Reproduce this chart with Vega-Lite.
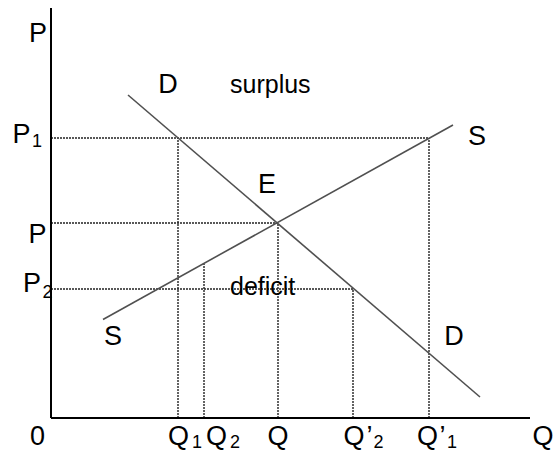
{
  "$schema": "https://vega.github.io/schema/vega-lite/v6.json",
  "width": 558,
  "height": 454,
  "autosize": "none",
  "padding": 0,
  "background": "white",
  "config": {"view": {"stroke": null}},
  "encoding": {
    "x": {"field": "x", "type": "quantitative", "scale": {"domain": [-51, 507], "nice": false, "zero": false}, "axis": null},
    "y": {"field": "y", "type": "quantitative", "scale": {"domain": [-36, 418], "nice": false, "zero": false}, "axis": null}
  },
  "layer": [
    {
      "data": {"values": [
        {"name": "P1", "x": 0, "y": 280, "x2": 378, "y2": 280},
        {"name": "P", "x": 0, "y": 195, "x2": 227, "y2": 195},
        {"name": "P2", "x": 0, "y": 129, "x2": 302, "y2": 129},
        {"name": "Q1", "x": 127, "y": 0, "x2": 127, "y2": 280},
        {"name": "Q2", "x": 153, "y": 0, "x2": 153, "y2": 154},
        {"name": "Q", "x": 227, "y": 0, "x2": 227, "y2": 195},
        {"name": "Q'2", "x": 302, "y": 0, "x2": 302, "y2": 129},
        {"name": "Q'1", "x": 378, "y": 0, "x2": 378, "y2": 280}
      ]},
      "mark": {"type": "rule", "color": "#222222", "strokeWidth": 1.4, "strokeDash": [2, 1]},
      "encoding": {"x2": {"field": "x2"}, "y2": {"field": "y2"}}
    },
    {
      "data": {"values": [
        {"name": "D", "x": 77, "y": 323, "x2": 429, "y2": 21},
        {"name": "S", "x": 52, "y": 98.5, "x2": 402, "y2": 293}
      ]},
      "mark": {"type": "rule", "color": "#505050", "strokeWidth": 1.6},
      "encoding": {"x2": {"field": "x2"}, "y2": {"field": "y2"}}
    },
    {
      "data": {"values": [
        {"name": "price axis", "x": 0, "y": 0, "x2": 0, "y2": 410},
        {"name": "quantity axis", "x": 0, "y": 0, "x2": 479, "y2": 0}
      ]},
      "mark": {"type": "rule", "color": "#000000", "strokeWidth": 2},
      "encoding": {"x2": {"field": "x2"}, "y2": {"field": "y2"}}
    },
    {
      "data": {"values": [
        {"label": "P", "x": -13, "y": 376},
        {"label": "D", "x": 117, "y": 325},
        {"label": "S", "x": 426, "y": 273},
        {"label": "E", "x": 216, "y": 225},
        {"label": "S", "x": 62, "y": 73},
        {"label": "D", "x": 403, "y": 73},
        {"label": "P", "x": -29.5, "y": 275},
        {"label": "P", "x": -13.5, "y": 175},
        {"label": "P", "x": -19, "y": 126},
        {"label": "0", "x": -13.5, "y": -27},
        {"label": "Q", "x": 127.5, "y": -27},
        {"label": "Q", "x": 165.5, "y": -27},
        {"label": "Q", "x": 227, "y": -27},
        {"label": "Q", "x": 303, "y": -27},
        {"label": "’", "x": 318.5, "y": -27},
        {"label": "Q", "x": 376.5, "y": -27},
        {"label": "’", "x": 391.5, "y": -27},
        {"label": "Q", "x": 492, "y": -27}
      ]},
      "mark": {"type": "text", "font": "Liberation Sans", "fontSize": 27, "align": "center", "baseline": "alphabetic", "color": "#000000"},
      "encoding": {"text": {"field": "label"}}
    },
    {
      "data": {"values": [
        {"label": "surplus", "x": 179, "y": 325},
        {"label": "deficit", "x": 179, "y": 123}
      ]},
      "mark": {"type": "text", "font": "Liberation Sans", "fontSize": 25, "align": "left", "baseline": "alphabetic", "color": "#000000"},
      "encoding": {"text": {"field": "label"}}
    },
    {
      "data": {"values": [
        {"label": "1", "x": -14, "y": 271},
        {"label": "2", "x": -3.5, "y": 120},
        {"label": "1", "x": 146, "y": -30},
        {"label": "2", "x": 184, "y": -30},
        {"label": "2", "x": 327.5, "y": -30},
        {"label": "1", "x": 401, "y": -30}
      ]},
      "mark": {"type": "text", "font": "Liberation Sans", "fontSize": 18, "align": "center", "baseline": "alphabetic", "color": "#000000"},
      "encoding": {"text": {"field": "label"}}
    }
  ]
}
